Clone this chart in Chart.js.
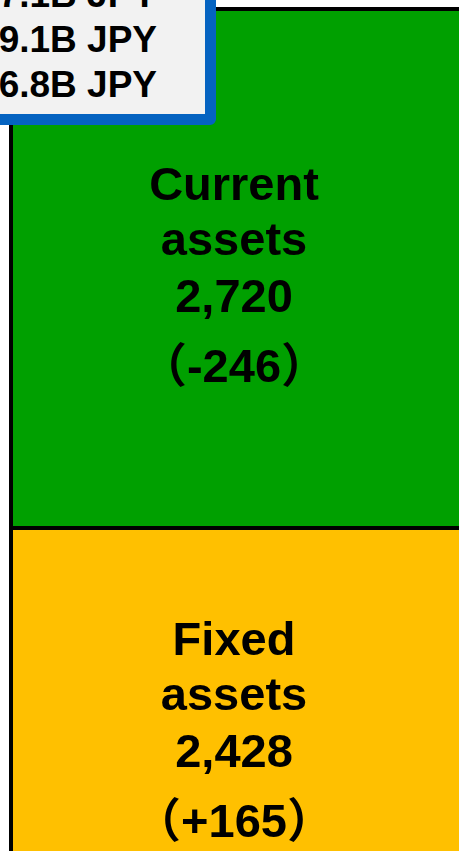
<!DOCTYPE html>
<html>
<head>
<meta charset="utf-8">
<script src="https://cdn.jsdelivr.net/npm/chart.js@4"></script>
<style>
  body { margin: 0; background: #fff; overflow: hidden; width: 459px; height: 851px; position: relative; }
  #chart { position: absolute; left: 0; top: 0; }
  .note {
    position: absolute; left: -100px; top: -40px; width: 316px; height: 165px;
    box-sizing: border-box; background: #f2f2f2; border: 11px solid #0563c1;
    border-bottom-right-radius: 6px; padding: 1px 48px 0 0; text-align: right;
    font: bold 37px "Liberation Sans", Arial, sans-serif; line-height: 45px; color: #000;
  }
</style>
</head>
<body>
<canvas id="chart" width="459" height="851"></canvas>
<div class="note" id="note"></div>
<script>
// values
const categories = ['Assets']
const seriesNames = ['Fixed assets', 'Current assets']
const fixedAssets = [2428]
const currentAssets = [2720]
const fixedChange = ['+165']
const currentChange = ['-246']
const noteLines = ['7.1B JPY', '9.1B JPY', '6.8B JPY']

document.getElementById('note').innerHTML = noteLines.join('<br>')

function makeLabel(name, value, change) {
  const words = name.split(' ')
  return [words[0], words[1], value.toLocaleString('en-US'), '（' + change + '）']
}

// draws the text block inside each bar
const barLabels = {
  id: 'barLabels',
  afterDatasetsDraw(chart) {
    const ctx = chart.ctx
    chart.data.datasets.forEach((ds, i) => {
      const meta = chart.getDatasetMeta(i)
      meta.data.forEach((bar, j) => {
        const lines = makeLabel(ds.label, ds.data[j], ds.changes[j])
        const gaps = [0, 54.5, 112, 181.5]
        ctx.save()
        ctx.fillStyle = '#000'
        ctx.textAlign = 'center'
        ctx.textBaseline = 'alphabetic'
        ctx.font = 'bold 47px "Liberation Sans", Arial, "Noto Sans CJK JP", sans-serif'
        lines.forEach((t, k) => {
          ctx.fillText(t, bar.x, bar.y + ds.labelTop + gaps[k])
        })
        ctx.restore()
      })
    })
  }
}

new Chart(document.getElementById('chart'), {
  type: 'bar',
  data: {
    labels: categories,
    datasets: [
      {
        label: seriesNames[0],
        data: fixedAssets,
        changes: fixedChange,
        labelTop: 127,
        backgroundColor: '#ffc000',
        borderColor: '#000',
        borderWidth: { top: 2, left: 4, right: 0, bottom: 0 },
        borderSkipped: false,
        inflateAmount: 0
      },
      {
        label: seriesNames[1],
        data: currentAssets,
        changes: currentChange,
        labelTop: 193,
        backgroundColor: '#00a000',
        borderColor: '#000',
        borderWidth: { top: 4, left: 4, right: 0, bottom: 2 },
        borderSkipped: false,
        inflateAmount: 0
      }
    ]
  },
  options: {
    responsive: false,
    animation: false,
    layout: { padding: { left: 9, top: 0, right: 0, bottom: 0 } },
    datasets: { bar: { barPercentage: 1, categoryPercentage: 1 } },
    scales: {
      x: { stacked: true, display: false },
      y: { stacked: true, display: false, min: 742, max: 5185 }
    },
    plugins: { legend: { display: false }, tooltip: { enabled: false } }
  },
  plugins: [barLabels]
})
</script>
</body>
</html>
